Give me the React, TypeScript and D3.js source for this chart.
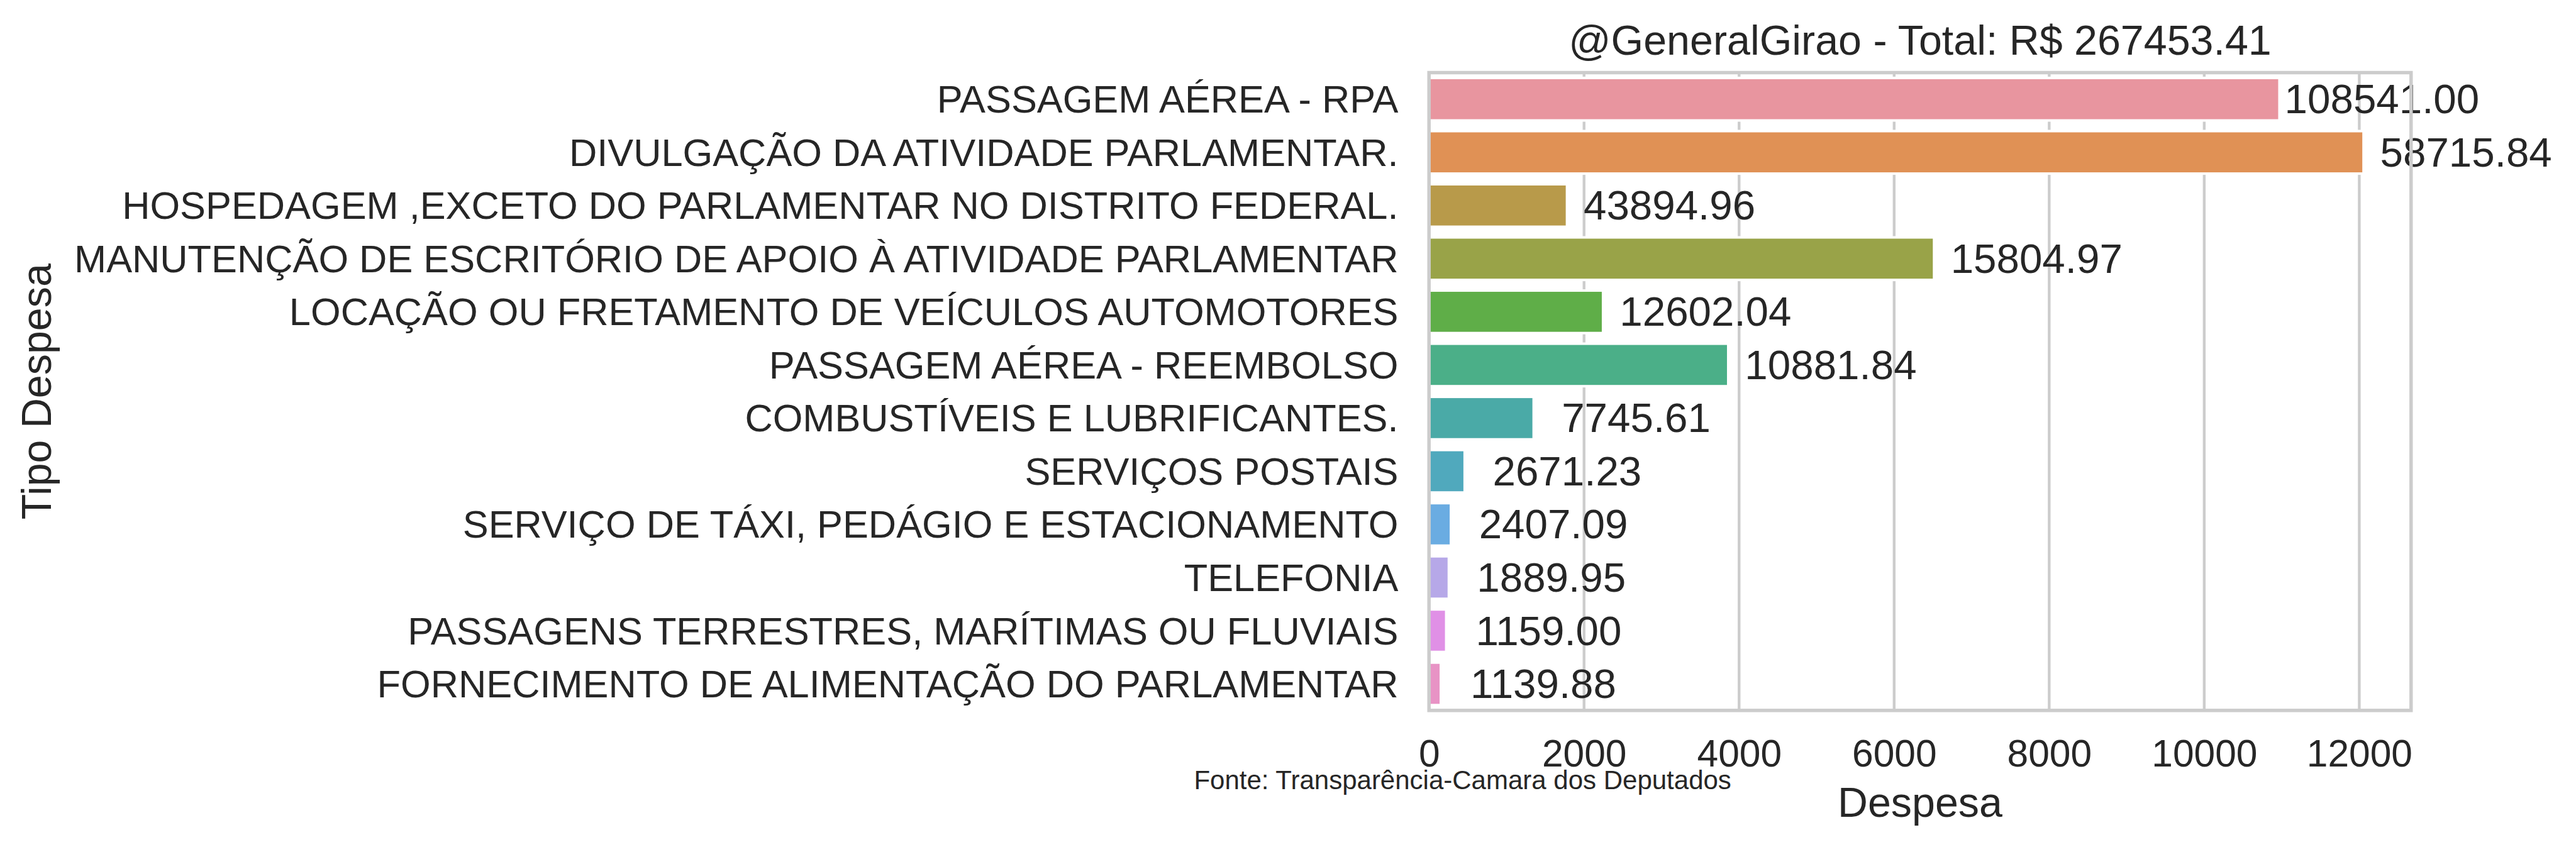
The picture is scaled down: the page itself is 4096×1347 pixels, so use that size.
import * as d3 from "d3";
import React, { useRef, useEffect } from "react";

// tipos de despesa, top to bottom
const categories = [
  "PASSAGEM AÉREA - RPA",
  "DIVULGAÇÃO DA ATIVIDADE PARLAMENTAR.",
  "HOSPEDAGEM ,EXCETO DO PARLAMENTAR NO DISTRITO FEDERAL.",
  "MANUTENÇÃO DE ESCRITÓRIO DE APOIO À ATIVIDADE PARLAMENTAR",
  "LOCAÇÃO OU FRETAMENTO DE VEÍCULOS AUTOMOTORES",
  "PASSAGEM AÉREA - REEMBOLSO",
  "COMBUSTÍVEIS E LUBRIFICANTES.",
  "SERVIÇOS POSTAIS",
  "SERVIÇO DE TÁXI, PEDÁGIO E ESTACIONAMENTO",
  "TELEFONIA",
  "PASSAGENS TERRESTRES, MARÍTIMAS OU FLUVIAIS",
  "FORNECIMENTO DE ALIMENTAÇÃO DO PARLAMENTAR",
];

// bar lengths as drawn
const barValues = [10970, 12055, 1780, 6515, 2245, 3860, 1350, 460, 283, 256, 222, 153];

// annotation text next to each bar
const valueLabels = [
  "108541.00",
  "58715.84",
  "43894.96",
  "15804.97",
  "12602.04",
  "10881.84",
  "7745.61",
  "2671.23",
  "2407.09",
  "1889.95",
  "1159.00",
  "1139.88",
];

const barColors = [
  "#e8959f", "#e09155", "#b89a4a", "#99a348", "#5fae48", "#4baf88",
  "#4aaaa7", "#50a9bd", "#6aace2", "#b6a8e8", "#e090e6", "#e893c5",
];

const xTicks = [0, 2000, 4000, 6000, 8000, 10000, 12000];
const xMax = 12668;

const title = "@GeneralGirao - Total: R$ 267453.41";
const xLabel = "Despesa";
const yLabel = "Tipo Despesa";
const source = "Fonte: Transparência-Camara dos Deputados";

const W = 4096;
const H = 1347;
const S = 0.84;
const FONT = "'Liberation Sans', Arial, 'DejaVu Sans', sans-serif";
const TEXT = "#262626";
const GRID = "#cccccc";

function BarChart() {
  const ref = useRef(null);

  useEffect(() => {
    draw();
  }, []);

  const draw = () => {
    const svg = d3.select(ref.current);
    svg.selectAll("*").remove();

    const left = 2705 * S;
    const right = 4564 * S;
    const top = 137.5 * S;
    const bottom = 1345 * S;

    const x = d3.scaleLinear().domain([0, xMax]).range([left, right]);
    const y = d3
      .scaleBand()
      .domain(categories)
      .range([top, bottom])
      .paddingInner(0.2)
      .paddingOuter(0.1);

    // vertical grid behind the bars
    svg
      .append("g")
      .selectAll("line")
      .data(xTicks)
      .enter()
      .append("line")
      .attr("x1", (d) => x(d))
      .attr("x2", (d) => x(d))
      .attr("y1", top)
      .attr("y2", bottom)
      .attr("stroke", GRID)
      .attr("stroke-width", 5.2 * S);

    svg
      .append("g")
      .selectAll("rect")
      .data(barValues)
      .enter()
      .append("rect")
      .attr("x", x(0))
      .attr("y", (d, i) => y(categories[i]))
      .attr("width", (d) => x(d) - x(0))
      .attr("height", y.bandwidth())
      .attr("fill", (d, i) => barColors[i])
      .attr("stroke", "#ffffff")
      .attr("stroke-width", 4);

    // value annotations, centred a fixed distance past the bar end
    svg
      .append("g")
      .selectAll("text")
      .data(barValues)
      .enter()
      .append("text")
      .attr("x", (d) => x(d) + 194 * S)
      .attr("y", (d, i) => y(categories[i]) + y.bandwidth() / 2)
      .attr("text-anchor", "middle")
      .attr("dominant-baseline", "central")
      .attr("font-size", 78 * S)
      .attr("font-family", FONT)
      .attr("fill", TEXT)
      .text((d, i) => valueLabels[i]);

    // category labels
    svg
      .append("g")
      .selectAll("text")
      .data(categories)
      .enter()
      .append("text")
      .attr("x", 2647 * S)
      .attr("y", (d) => y(d) + y.bandwidth() / 2)
      .attr("text-anchor", "end")
      .attr("dominant-baseline", "central")
      .attr("font-size", 73 * S)
      .attr("font-family", FONT)
      .attr("fill", TEXT)
      .text((d) => d);

    const xAxis = d3
      .axisBottom(x)
      .tickValues(xTicks)
      .tickSize(0)
      .tickPadding(46)
      .tickFormat(d3.format("d"));

    const gx = svg.append("g").attr("transform", `translate(0, ${bottom})`).call(xAxis);
    gx.select(".domain").remove();
    gx.selectAll("text")
      .attr("font-size", 72 * S)
      .attr("font-family", FONT)
      .attr("fill", TEXT);

    // spines on top
    svg
      .append("rect")
      .attr("x", left)
      .attr("y", top)
      .attr("width", right - left)
      .attr("height", bottom - top)
      .attr("fill", "none")
      .attr("stroke", GRID)
      .attr("stroke-width", 6.5 * S);

    svg
      .append("text")
      .attr("x", (left + right) / 2)
      .attr("y", 103 * S)
      .attr("text-anchor", "middle")
      .attr("font-size", 79 * S)
      .attr("font-family", FONT)
      .attr("fill", TEXT)
      .text(title);

    svg
      .append("text")
      .attr("x", (left + right) / 2)
      .attr("y", 1546 * S)
      .attr("text-anchor", "middle")
      .attr("font-size", 79 * S)
      .attr("font-family", FONT)
      .attr("fill", TEXT)
      .text(xLabel);

    svg
      .append("text")
      .attr("transform", `translate(${97 * S}, ${(top + bottom) / 2}) rotate(-90)`)
      .attr("text-anchor", "middle")
      .attr("font-size", 79 * S)
      .attr("font-family", FONT)
      .attr("fill", TEXT)
      .text(yLabel);

    svg
      .append("text")
      .attr("x", 2260 * S)
      .attr("y", 1494 * S)
      .attr("font-size", 50 * S)
      .attr("font-family", FONT)
      .attr("fill", TEXT)
      .text(source);
  };

  return (
    <svg
      ref={ref}
      width={W}
      height={H}
      style={{ position: "absolute", left: 0, top: 0, display: "block", background: "#ffffff" }}
    ></svg>
  );
}

export default function App() {
  return <BarChart />;
}
